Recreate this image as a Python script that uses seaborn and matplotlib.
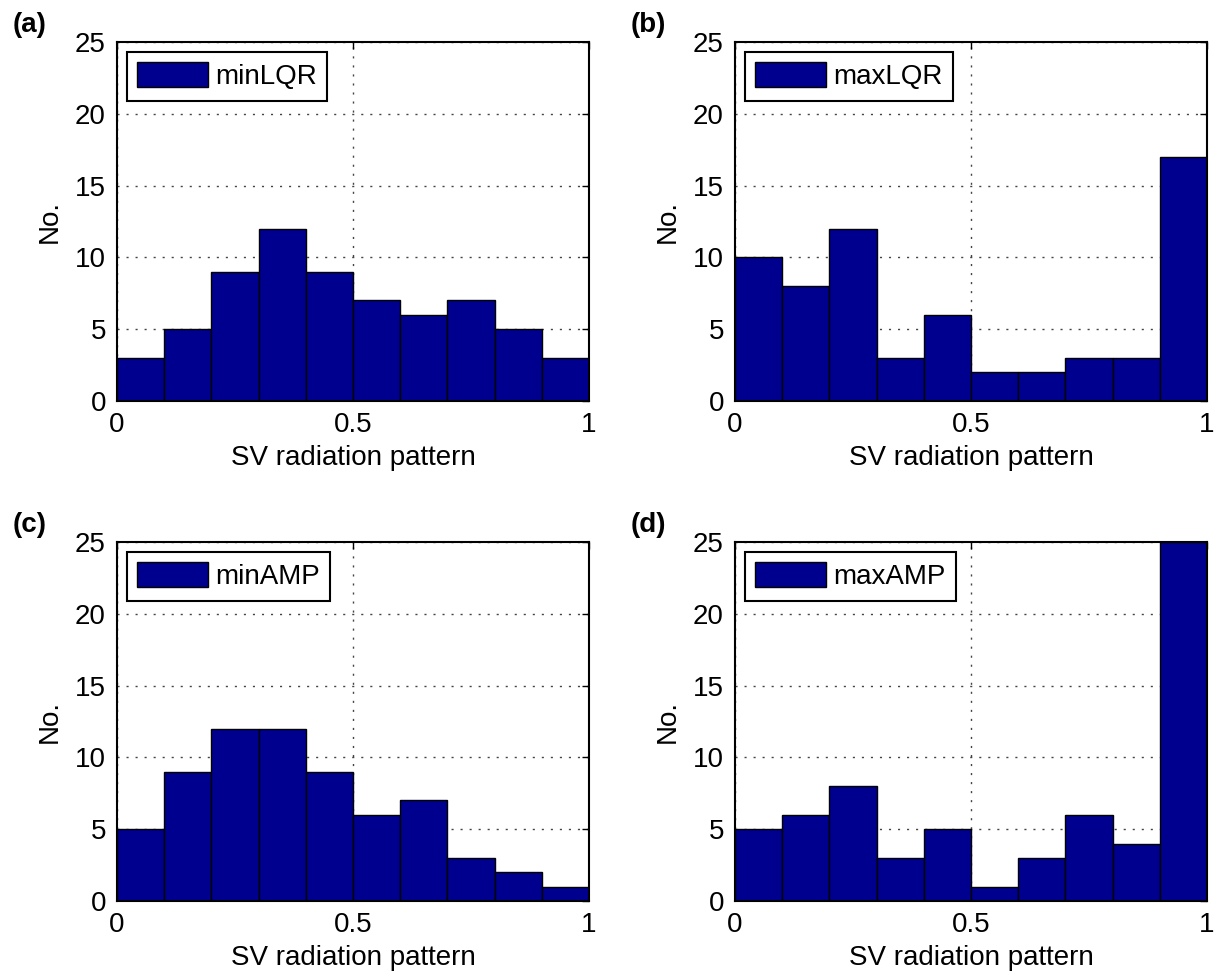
import numpy as np
import pandas as pd
import matplotlib
matplotlib.use("Agg")
import matplotlib.pyplot as plt
import seaborn as sns

# ---- data ----
bin_edges = [0.0, 0.1, 0.2, 0.3, 0.4, 0.5, 0.6, 0.7, 0.8, 0.9, 1.0]
min_lqr = [3, 5, 9, 12, 9, 7, 6, 7, 5, 3]
max_lqr = [10, 8, 12, 3, 6, 2, 2, 3, 3, 17]
min_amp = [5, 9, 12, 12, 9, 6, 7, 3, 2, 1]
max_amp = [5, 6, 8, 3, 5, 1, 3, 6, 4, 25]
series_names = ["minLQR", "maxLQR", "minAMP", "maxAMP"]
panel_labels = ["(a)", "(b)", "(c)", "(d)"]
x_ticks = [0, 0.5, 1]
x_tick_labels = ["0", "0.5", "1"]
y_ticks = [0, 5, 10, 15, 20, 25]
x_label = "SV radiation pattern"
y_label = "No."

sns.set_style("white")
plt.rcParams["font.family"] = ["Liberation Sans", "DejaVu Sans"]
plt.rcParams["text.color"] = "black"
plt.rcParams["axes.labelcolor"] = "black"
plt.rcParams["xtick.color"] = "black"
plt.rcParams["ytick.color"] = "black"

BAR = "#00008F"
FS = 20

fig = plt.figure(figsize=(12.18, 9.77), dpi=100)
W, H = 1218, 977
positions = [(117, 42), (735, 42), (117, 542), (735, 542)]
aw, ah = 472, 359

centers = [(bin_edges[i] + bin_edges[i + 1]) / 2 for i in range(len(bin_edges) - 1)]
all_counts = [min_lqr, max_lqr, min_amp, max_amp]

for k, (counts, name, plab, (px, py)) in enumerate(zip(all_counts, series_names, panel_labels, positions)):
    ax = fig.add_axes([px / W, 1 - (py + ah) / H, aw / W, ah / H])
    df = pd.DataFrame({"x": centers, "w": counts})
    sns.histplot(data=df, x="x", weights="w", bins=bin_edges, ax=ax,
                 color=BAR, edgecolor="black", linewidth=1.0, alpha=1.0,
                 label=name, zorder=2)
    ax.set_xlim(0, 1)
    ax.set_ylim(0, 25)
    ax.set_xticks(x_ticks)
    ax.set_xticklabels(x_tick_labels)
    ax.set_yticks(y_ticks)
    ax.tick_params(direction="in", length=5, width=1, top=True, right=True,
                   labelsize=FS, pad=8, color="black", labelcolor="black")
    ax.set_axisbelow(True)
    ax.grid(True, linestyle=(0, (1.5, 5)), color="#444444", linewidth=1.0)
    for s in ax.spines.values():
        s.set_visible(True)
        s.set_color("black")
        s.set_linewidth(1.5)
    ax.set_xlabel(x_label, fontsize=FS, labelpad=5, color="black")
    ax.set_ylabel(y_label, fontsize=FS, labelpad=9, color="black")
    leg = ax.legend(loc="upper left", fontsize=FS, frameon=True, fancybox=False,
                    handlelength=2.55, handleheight=1.0, borderpad=0.38,
                    handletextpad=0.25, borderaxespad=0.35)
    leg.get_frame().set_edgecolor("black")
    leg.get_frame().set_linewidth(1.5)
    leg.get_frame().set_alpha(1.0)
    for t in leg.get_texts():
        t.set_color("black")
    fig.text((px - 104) / W, 1 - (py - 17) / H, plab, fontsize=FS, fontweight="bold",
             va="center", ha="left", color="black")

fig.savefig("out.png", dpi=100)
